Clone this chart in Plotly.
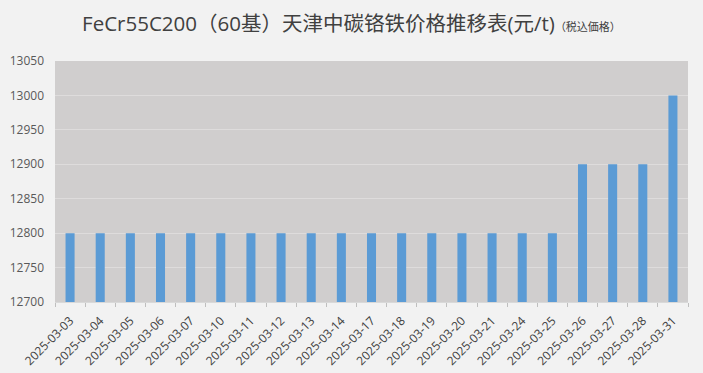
import plotly.graph_objects as go

dates = ["2025-03-03", "2025-03-04", "2025-03-05", "2025-03-06", "2025-03-07",
         "2025-03-10", "2025-03-11", "2025-03-12", "2025-03-13", "2025-03-14",
         "2025-03-17", "2025-03-18", "2025-03-19", "2025-03-20", "2025-03-21",
         "2025-03-24", "2025-03-25", "2025-03-26", "2025-03-27", "2025-03-28",
         "2025-03-31"]
prices = [12800, 12800, 12800, 12800, 12800, 12800, 12800, 12800, 12800, 12800,
          12800, 12800, 12800, 12800, 12800, 12800, 12800, 12900, 12900, 12900,
          13000]
y_ticks = [12700, 12750, 12800, 12850, 12900, 12950, 13000, 13050]
y_tick_labels = [str(v) for v in y_ticks]

font_fam = "Open Sans, Noto Sans CJK SC, sans-serif"

fig = go.Figure(go.Bar(x=dates, y=prices, marker_color="#5b9bd5",
                       marker_line_width=0, width=0.3))

fig.update_layout(
    width=703, height=373,
    paper_bgcolor="#f2f2f2", plot_bgcolor="#d0cece",
    margin=dict(l=55, r=15, t=61, b=71),
    showlegend=False,
    font=dict(family=font_fam, color="#595959", size=12),
    title=dict(
        text="FeCr55C200（60基）天津中碳铬铁价格推移表(元/t)<span style='font-size:11px'>（税込価格）</span>",
        x=0.5, xanchor="center", y=0.935, yanchor="middle",
        font=dict(family=font_fam, size=20.5, color="#404040"),
    ),
    bargap=0.7,
)
fig.update_yaxes(range=[12700, 13050], tickvals=y_ticks, ticktext=y_tick_labels,
                 showgrid=True, automargin=False, ticklabelstandoff=10,
                 gridcolor="#dedcdc", gridwidth=1, zeroline=False,
                 tickfont=dict(color="#595959", size=12), ticks="", showline=False)
fig.update_xaxes(type="category", tickangle=-45, tickson="boundaries",
                 ticks="outside", ticklen=4, tickcolor="#bfbfbf", automargin=False,
                 ticklabelstandoff=6,
                 showline=True, linecolor="#d9d9d9", linewidth=1,
                 tickfont=dict(color="#404040", size=12))

fig.write_html("out.html", config={"displayModeBar": False},
               post_script="document.body.style.margin='0';document.body.style.background='#f2f2f2';")
